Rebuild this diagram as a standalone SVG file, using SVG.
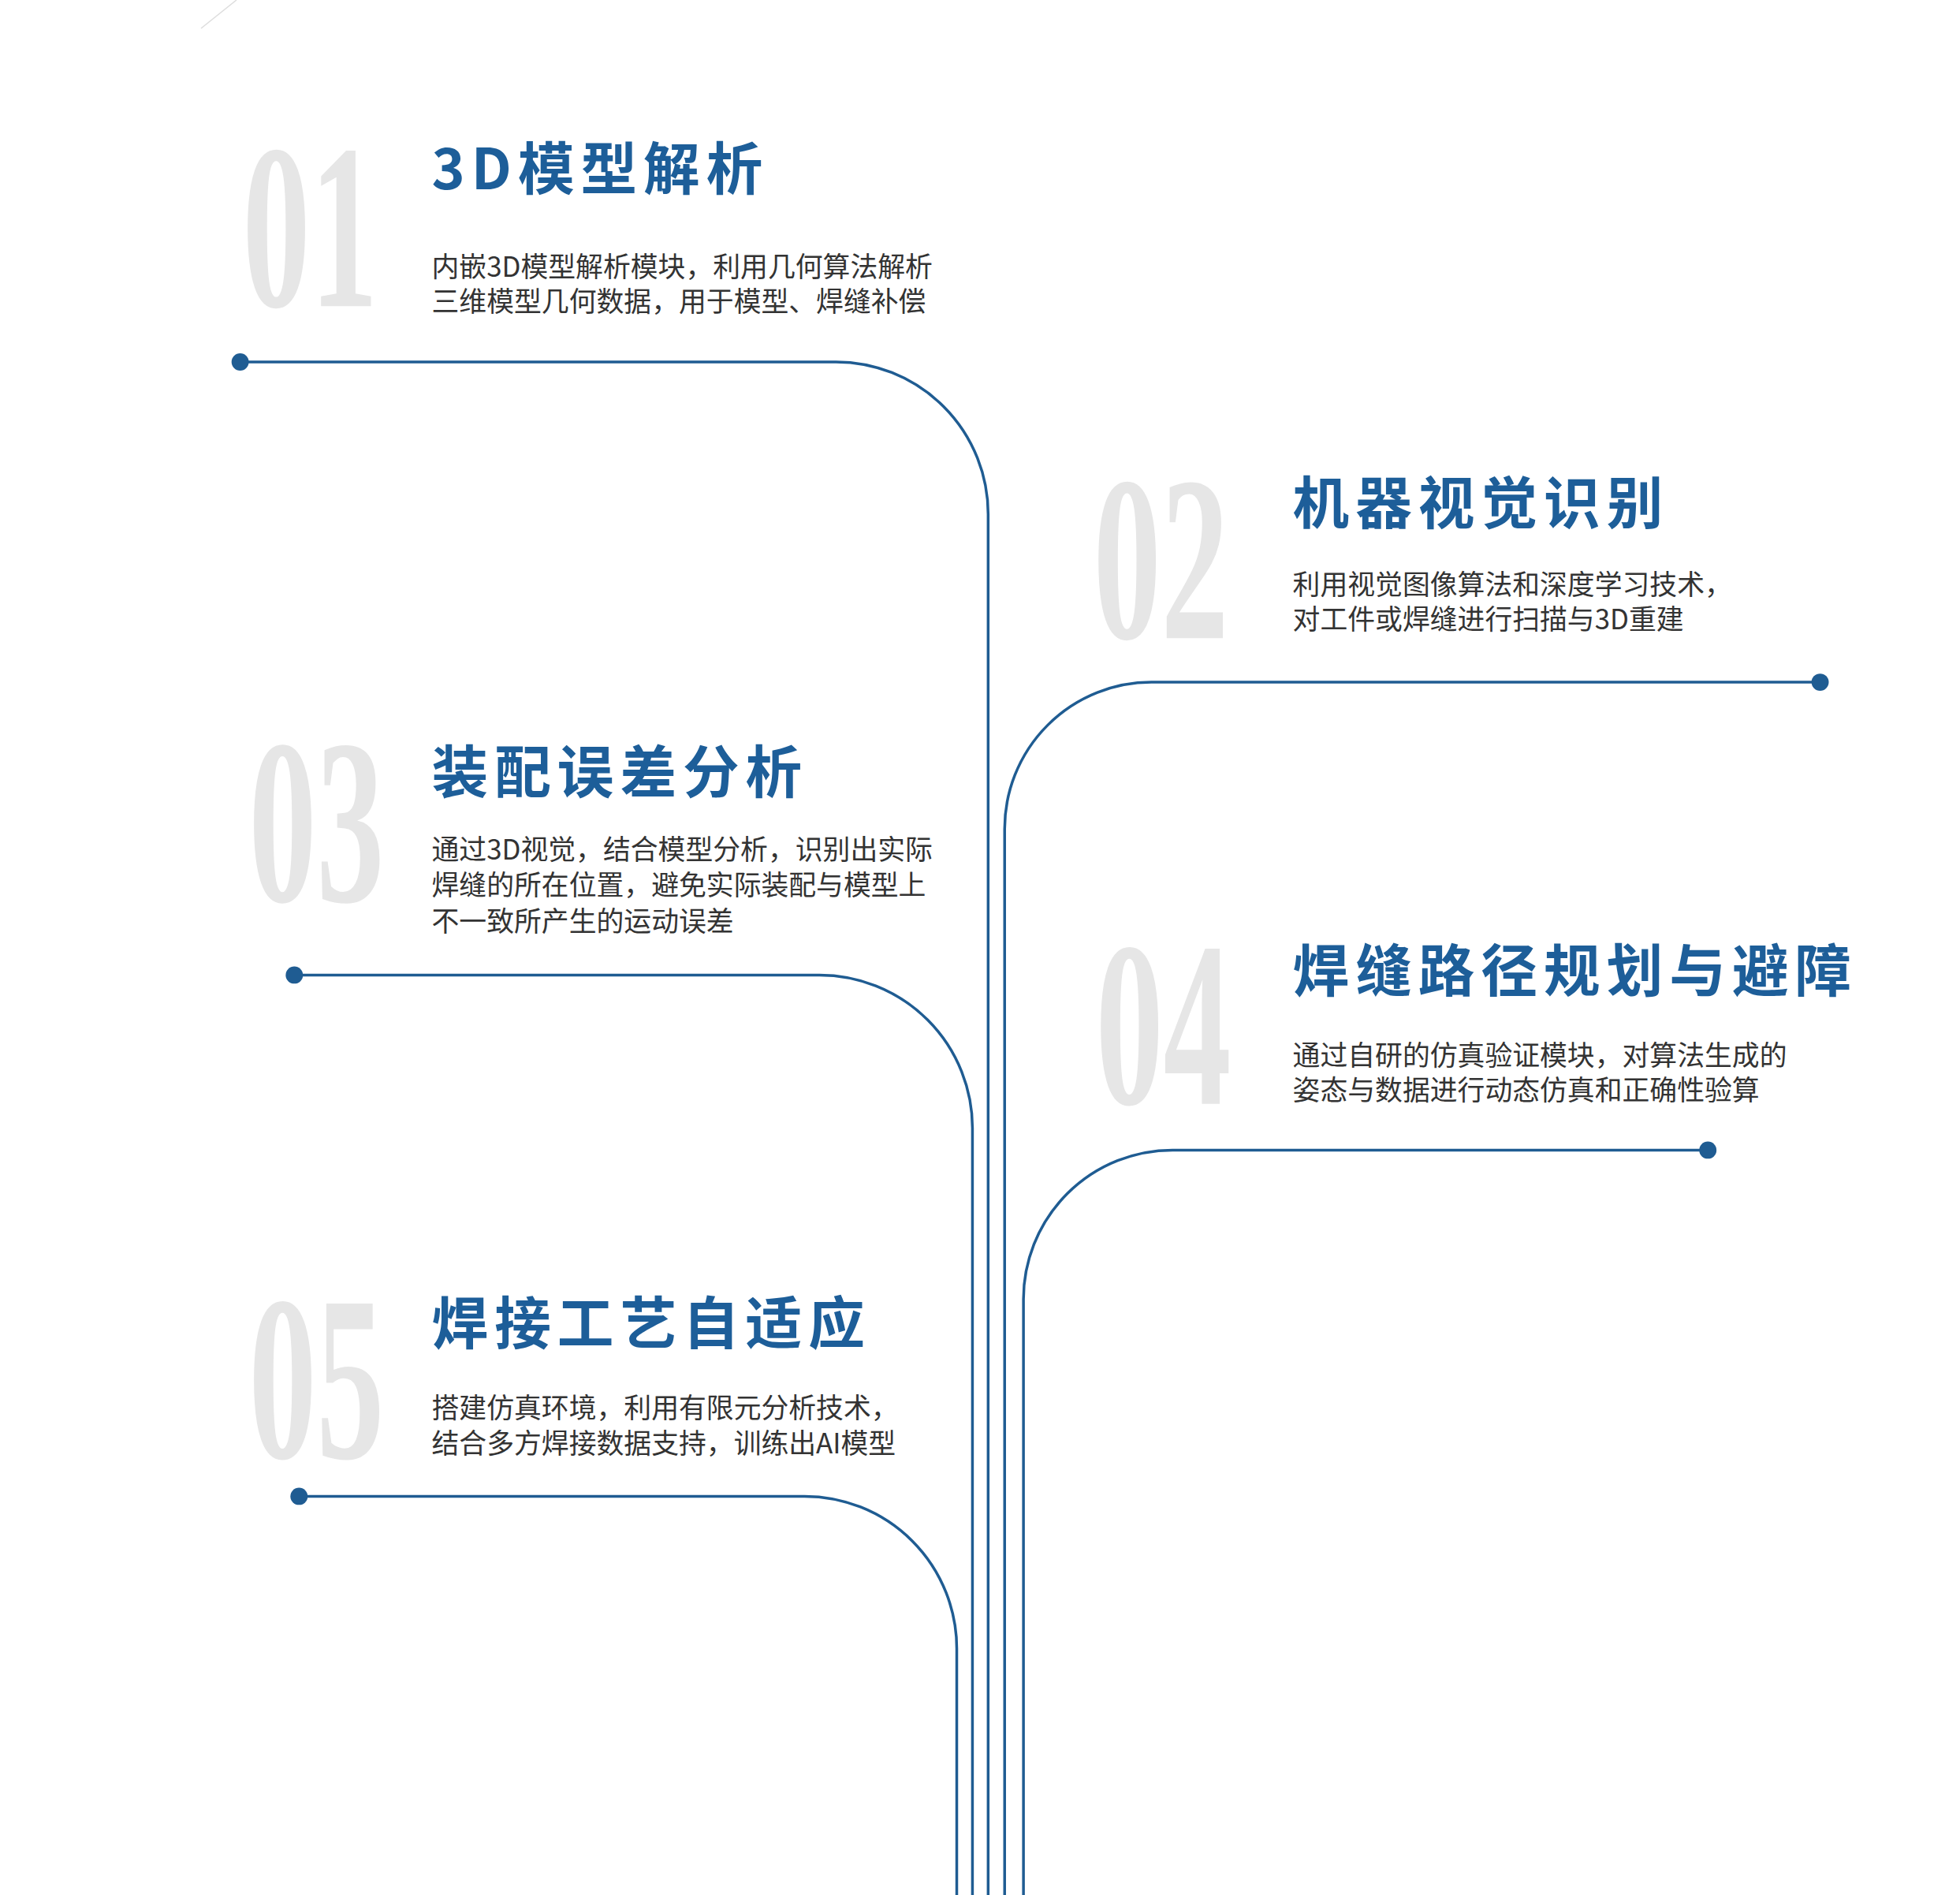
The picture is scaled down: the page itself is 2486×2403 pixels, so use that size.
<svg xmlns="http://www.w3.org/2000/svg" width="2486" height="2403" viewBox="0 0 2486 2403">
<style>
.num{font-family:"Liberation Serif",serif;font-size:300px;font-weight:bold;fill:#e6e6e6}
.t{font-family:"Noto Sans CJK SC",sans-serif;font-weight:bold;font-size:72px;fill:#1d5e99;letter-spacing:8px}
.b{font-family:"Noto Sans CJK SC",sans-serif;font-size:35px;fill:#333}
.ln{fill:none;stroke:#1f5c92;stroke-width:3.5}
.dot{fill:#1f5c92}
</style>
<rect width="2486" height="2403" fill="#fff"/>
<line x1="255" y1="36" x2="300" y2="0" stroke="#ddd" stroke-width="1.5"/>
<g transform="scale(0.9955)">
<g id="connectors">
<path class="ln" d="M306 461 H1065 A194 194 0 0 1 1259 655 V2420"/>
<path class="ln" d="M2319 869 H1467 A187 187 0 0 0 1280 1056 V2420"/>
<path class="ln" d="M375 1242 H1044 A195 195 0 0 1 1239 1437 V2420"/>
<path class="ln" d="M2176 1465 H1494 A190 190 0 0 0 1304 1655 V2420"/>
<path class="ln" d="M381 1906 H1025 A194 194 0 0 1 1219 2100 V2420"/>
<circle class="dot" cx="306" cy="461" r="11"/>
<circle class="dot" cx="2319" cy="869" r="11"/>
<circle class="dot" cx="375" cy="1242" r="11"/>
<circle class="dot" cx="2176" cy="1465" r="11"/>
<circle class="dot" cx="381" cy="1906" r="11"/>
</g>
<g id="n1">
<text class="num" transform="translate(309 390) scale(0.575 1)">01</text>
<text class="t" x="550" y="241">3D模型解析</text>
<text class="b" x="550" y="353">内嵌3D模型解析模块，利用几何算法解析</text>
<text class="b" x="550" y="397">三维模型几何数据，用于模型、焊缝补偿</text>
</g>
<g id="n2">
<text class="num" transform="translate(1393 813) scale(0.575 1)">02</text>
<text class="t" x="1647" y="667">机器视觉识别</text>
<text class="b" x="1647" y="757">利用视觉图像算法和深度学习技术，</text>
<text class="b" x="1647" y="802">对工件或焊缝进行扫描与3D重建</text>
</g>
<g id="n3">
<text class="num" transform="translate(317 1148) scale(0.575 1)">03</text>
<text class="t" x="550" y="1010">装配误差分析</text>
<text class="b" x="550" y="1095">通过3D视觉，结合模型分析，识别出实际</text>
<text class="b" x="550" y="1140">焊缝的所在位置，避免实际装配与模型上</text>
<text class="b" x="550" y="1186">不一致所产生的运动误差</text>
</g>
<g id="n4">
<text class="num" transform="translate(1396 1406) scale(0.575 1)">04</text>
<text class="t" x="1647" y="1263">焊缝路径规划与避障</text>
<text class="b" x="1647" y="1357">通过自研的仿真验证模块，对算法生成的</text>
<text class="b" x="1647" y="1401">姿态与数据进行动态仿真和正确性验算</text>
</g>
<g id="n5">
<text class="num" transform="translate(317 1857) scale(0.575 1)">05</text>
<text class="t" x="550" y="1712">焊接工艺自适应</text>
<text class="b" x="550" y="1806">搭建仿真环境，利用有限元分析技术，</text>
<text class="b" x="550" y="1851">结合多方焊接数据支持，训练出AI模型</text>
</g>
</g>
</svg>
